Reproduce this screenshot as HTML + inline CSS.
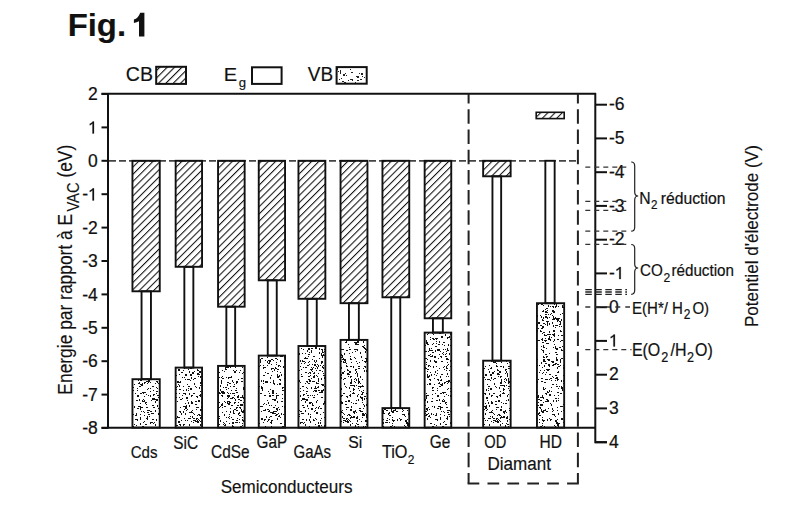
<!DOCTYPE html>
<html><head><meta charset="utf-8"><style>
html,body{margin:0;padding:0;background:#fff;width:809px;height:518px;overflow:hidden}
svg{display:block;font-family:"Liberation Sans",sans-serif}
.t{stroke:#111;stroke-width:0.22px} .t2{stroke:#111;stroke-width:0.15px}
</style></head><body>
<svg width="809" height="518" viewBox="0 0 809 518" font-family="Liberation Sans, sans-serif" fill="#111"><defs>
<pattern id="hatch" patternUnits="userSpaceOnUse" width="5.1" height="10" patternTransform="translate(131,161) rotate(45)">
<rect x="0" y="0" width="1.05" height="10" fill="#111"/>
</pattern>
<pattern id="hatchL" patternUnits="userSpaceOnUse" width="5.2" height="10" patternTransform="translate(157,84) rotate(45)">
<rect x="0" y="0" width="1.1" height="10" fill="#111"/>
</pattern>
<pattern id="stipL" patternUnits="userSpaceOnUse" width="40" height="20" patternTransform="translate(336,67)">
<g fill="#222"><path d="M20 9h2v1h-2zM4 34h1v1h-1zM37 3h1v1h-1zM5 27h2v1h-2zM15 5h2v1h-2zM36 7h1v1h-1zM36 37h2v1h-2zM14 2h1v1h-1zM26 9h1v1h-1zM35 11h1v1h-1zM23 6h1v1h-1zM39 13h2v2h-2zM20 29h2v1h-2zM19 15h1v1h-1zM5 36h1v2h-1zM21 28h1v1h-1zM7 32h2v1h-2zM21 9h2v2h-2zM2 4h1v1h-1zM22 38h2v2h-2zM4 5h1v2h-1zM4 3h1v2h-1zM18 24h1v1h-1zM29 22h1v1h-1zM31 3h1v1h-1zM8 15h2v2h-2zM31 5h1v2h-1zM25 35h1v1h-1zM27 35h1v2h-1zM22 24h1v1h-1zM5 11h1v1h-1zM14 0h2v1h-2zM16 18h1v1h-1zM26 34h1v1h-1zM8 32h1v2h-1zM35 25h2v2h-2zM25 6h2v2h-2zM3 12h1v1h-1zM28 10h1v1h-1zM38 3h1v1h-1zM36 9h1v1h-1zM39 1h1v1h-1zM39 24h1v1h-1zM22 38h1v2h-1zM7 7h2v2h-2zM30 30h1v1h-1zM9 6h1v1h-1zM30 10h1v1h-1zM33 23h1v1h-1zM33 19h1v1h-1zM33 23h1v1h-1zM14 34h1v1h-1zM39 12h1v2h-1zM14 12h2v1h-2zM1 1h1v2h-1zM16 12h1v2h-1zM22 23h1v1h-1zM6 14h2v1h-2zM21 13h2v1h-2zM30 22h1v1h-1zM24 12h2v1h-2zM27 21h1v2h-1zM29 25h1v1h-1zM10 8h1v1h-1zM37 29h1v2h-1zM22 9h1v1h-1zM0 6h1v2h-1zM12 13h1v1h-1zM13 18h1v1h-1zM16 34h2v1h-2z"/></g>
</pattern>
<pattern id="stip" patternUnits="userSpaceOnUse" width="150" height="150">
<g fill="#111"><path d="M15 90h2v2h-2zM128 33h1v1h-1zM112 46h1v1h-1zM44 36h2v1h-2zM142 15h1v2h-1zM27 143h1v1h-1zM48 70h1v1h-1zM129 115h1v1h-1zM113 83h1v1h-1zM115 130h2v1h-2zM133 66h1v2h-1zM35 106h1v2h-1zM113 80h1v1h-1zM109 18h1v1h-1zM31 39h1v1h-1zM64 35h2v1h-2zM24 101h2v1h-2zM57 41h2v2h-2zM86 107h1v1h-1zM81 23h1v1h-1zM86 141h2v2h-2zM4 98h1v1h-1zM131 16h1v1h-1zM26 21h1v1h-1zM10 46h1v1h-1zM108 66h2v1h-2zM137 131h2v1h-2zM22 71h1v1h-1zM108 18h1v1h-1zM22 66h1v1h-1zM17 67h1v2h-1zM2 86h2v1h-2zM33 11h1v1h-1zM41 67h1v1h-1zM51 79h1v1h-1zM74 114h1v1h-1zM88 4h1v1h-1zM3 4h1v2h-1zM62 114h1v2h-1zM126 139h2v1h-2zM55 58h1v1h-1zM35 103h1v1h-1zM33 3h1v1h-1zM110 41h1v1h-1zM97 129h1v1h-1zM75 11h2v1h-2zM40 68h2v1h-2zM67 93h1v1h-1zM62 8h1v1h-1zM91 46h1v1h-1zM97 21h2v1h-2zM128 51h1v1h-1zM23 67h1v1h-1zM102 10h2v1h-2zM76 77h1v1h-1zM149 135h1v2h-1zM83 126h1v1h-1zM37 11h2v1h-2zM134 129h1v1h-1zM21 7h1v1h-1zM92 26h2v2h-2zM142 12h1v1h-1zM125 67h1v2h-1zM17 128h1v1h-1zM121 64h1v1h-1zM60 52h1v2h-1zM126 97h1v2h-1zM73 11h1v1h-1zM37 84h1v1h-1zM145 34h1v2h-1zM15 124h1v1h-1zM55 125h1v1h-1zM118 119h2v1h-2zM140 51h1v1h-1zM121 4h1v2h-1zM19 129h2v1h-2zM99 53h1v1h-1zM148 23h1v1h-1zM92 33h1v1h-1zM93 59h2v2h-2zM100 6h1v1h-1zM125 115h2v1h-2zM36 106h1v2h-1zM80 30h1v1h-1zM83 86h2v1h-2zM50 3h1v1h-1zM95 16h2v2h-2zM19 92h2v1h-2zM12 71h1v1h-1zM73 38h1v1h-1zM111 130h1v1h-1zM95 109h1v2h-1zM141 140h1v1h-1zM12 105h2v1h-2zM73 124h1v1h-1zM43 120h2v1h-2zM72 76h1v1h-1zM103 61h1v2h-1zM142 100h1v1h-1zM41 19h1v2h-1zM140 56h2v1h-2zM115 109h1v1h-1zM62 23h1v1h-1zM142 23h1v1h-1zM94 66h1v1h-1zM105 98h2v1h-2zM96 69h1v1h-1zM127 71h1v1h-1zM128 135h1v1h-1zM69 63h2v2h-2zM114 110h1v1h-1zM32 8h2v2h-2zM125 0h1v2h-1zM135 119h2v1h-2zM27 57h1v1h-1zM133 27h2v1h-2zM141 10h1v1h-1zM59 145h1v1h-1zM32 64h2v1h-2zM25 18h1v1h-1zM99 66h1v1h-1zM2 137h1v2h-1zM71 80h1v2h-1zM134 60h1v1h-1zM105 78h1v1h-1zM49 127h2v1h-2zM65 58h2v1h-2zM58 126h1v1h-1zM107 92h2v1h-2zM1 74h1v1h-1zM126 51h1v1h-1zM59 119h1v1h-1zM75 27h2v1h-2zM57 124h2v1h-2zM37 100h1v1h-1zM6 36h2v1h-2zM15 47h2v2h-2zM80 28h1v1h-1zM84 48h1v2h-1zM8 79h2v1h-2zM84 113h1v1h-1zM0 20h1v1h-1zM89 107h1v1h-1zM97 91h1v2h-1zM22 12h2v1h-2zM95 138h2v1h-2zM82 93h2v1h-2zM105 63h2v1h-2zM96 8h2v1h-2zM15 65h1v1h-1zM86 92h1v1h-1zM11 67h1v1h-1zM76 0h1v1h-1zM59 27h2v2h-2zM98 64h2v2h-2zM33 127h1v1h-1zM77 38h1v1h-1zM81 117h1v1h-1zM131 50h2v1h-2zM63 104h1v1h-1zM123 141h1v1h-1zM109 26h1v1h-1zM21 53h1v2h-1zM127 114h1v1h-1zM34 106h2v1h-2zM137 31h1v1h-1zM71 145h1v1h-1zM65 66h1v2h-1zM63 47h1v1h-1zM39 72h1v1h-1zM16 101h1v1h-1zM129 134h1v1h-1zM118 9h1v1h-1zM121 59h2v1h-2zM10 75h1v1h-1zM12 48h1v1h-1zM95 131h1v2h-1zM66 1h1v1h-1zM55 9h1v1h-1zM36 11h1v1h-1zM9 52h1v1h-1zM104 95h1v1h-1zM19 52h1v2h-1zM140 123h1v2h-1zM25 101h1v1h-1zM41 101h1v2h-1zM72 78h2v1h-2zM79 145h1v2h-1zM106 4h1v1h-1zM100 103h1v1h-1zM111 40h2v1h-2zM23 103h1v2h-1zM41 33h1v1h-1zM141 36h2v1h-2zM146 94h1v1h-1zM89 72h1v1h-1zM17 27h2v2h-2zM50 77h1v1h-1zM123 80h1v2h-1zM22 41h1v2h-1zM50 121h1v1h-1zM10 102h1v2h-1zM91 31h1v1h-1zM49 10h1v1h-1zM30 99h2v1h-2zM107 78h1v2h-1zM99 94h2v2h-2zM45 5h1v2h-1zM119 60h2v2h-2zM45 121h2v1h-2zM17 32h1v2h-1zM93 23h2v1h-2zM10 33h1v1h-1zM130 20h1v2h-1zM34 6h1v1h-1zM49 33h2v1h-2zM42 56h1v1h-1zM64 40h1v1h-1zM116 36h1v2h-1zM53 67h1v1h-1zM95 9h1v1h-1zM103 41h1v1h-1zM96 43h1v1h-1zM135 12h1v2h-1zM142 133h1v1h-1zM137 100h1v1h-1zM96 94h1v1h-1zM84 20h2v1h-2zM45 12h1v1h-1zM79 149h1v1h-1zM8 56h1v1h-1zM110 106h1v1h-1zM33 125h1v1h-1zM5 13h1v1h-1zM77 27h1v1h-1zM105 149h1v1h-1zM52 93h2v1h-2zM34 3h1v1h-1zM115 24h1v1h-1zM69 102h1v1h-1zM14 143h1v2h-1zM132 126h1v1h-1zM0 11h1v1h-1zM103 47h1v1h-1zM14 26h1v1h-1zM36 105h1v2h-1zM44 130h1v1h-1zM76 12h2v1h-2zM96 111h2v1h-2zM115 44h1v1h-1zM66 59h1v1h-1zM85 67h1v1h-1zM141 111h1v1h-1zM55 21h1v1h-1zM66 60h1v1h-1zM83 49h2v1h-2zM61 97h2v2h-2zM135 1h1v2h-1zM59 146h1v1h-1zM100 149h1v1h-1zM37 8h1v1h-1zM27 41h1v1h-1zM7 7h1v1h-1zM10 17h1v1h-1zM93 51h1v2h-1zM27 63h1v1h-1zM28 8h1v1h-1zM73 122h1v1h-1zM25 52h1v1h-1zM86 108h1v1h-1zM89 65h1v1h-1zM94 82h2v1h-2zM7 105h1v2h-1zM132 25h1v2h-1zM12 137h1v1h-1zM147 73h1v2h-1zM0 134h1v1h-1zM13 1h1v2h-1zM24 125h1v2h-1zM88 131h1v1h-1zM72 54h1v2h-1zM42 28h1v2h-1zM143 26h1v1h-1zM24 102h2v1h-2zM108 6h1v1h-1zM77 67h2v1h-2zM97 59h2v1h-2zM136 8h1v1h-1zM133 39h2v1h-2zM43 118h2v1h-2zM148 59h1v1h-1zM118 60h1v1h-1zM77 39h1v1h-1zM83 133h1v1h-1zM60 83h1v1h-1zM26 42h1v1h-1zM98 38h1v1h-1zM76 111h1v1h-1zM27 27h1v1h-1zM99 118h1v1h-1zM102 111h1v1h-1zM118 5h1v1h-1zM103 1h1v2h-1zM146 107h1v1h-1zM46 31h2v2h-2zM80 66h1v2h-1zM62 102h1v1h-1zM108 123h2v1h-2zM104 132h1v1h-1zM2 99h2v1h-2zM9 64h1v1h-1zM51 132h1v1h-1zM147 116h1v2h-1zM131 4h1v1h-1zM105 116h1v1h-1zM100 131h1v1h-1zM14 64h1v2h-1zM102 15h1v1h-1zM107 107h1v1h-1zM27 57h1v2h-1zM134 56h2v2h-2zM54 42h1v1h-1zM49 120h1v1h-1zM90 105h2v1h-2zM140 32h2v1h-2zM58 68h2v1h-2zM109 47h2v1h-2zM71 91h1v1h-1zM82 122h2v2h-2zM21 92h1v1h-1zM98 14h1v1h-1zM35 135h1v1h-1zM2 53h1v1h-1zM64 25h1v1h-1zM47 115h1v1h-1zM53 103h1v1h-1zM140 76h1v2h-1zM54 135h1v2h-1zM29 142h1v1h-1zM107 59h1v2h-1zM126 142h1v2h-1zM119 36h2v1h-2zM127 42h1v1h-1zM82 119h2v1h-2zM119 95h2v2h-2zM19 46h1v1h-1zM5 11h1v1h-1zM130 123h2v1h-2zM8 54h2v1h-2zM86 24h1v1h-1zM121 134h1v1h-1zM111 87h2v1h-2zM141 13h1v1h-1zM90 126h2v1h-2zM128 69h1v1h-1zM126 30h1v1h-1zM81 76h1v1h-1zM10 102h2v1h-2zM102 76h1v1h-1zM11 48h2v1h-2zM128 139h2v1h-2zM21 54h1v2h-1zM44 25h1v1h-1zM107 25h1v1h-1zM35 79h1v1h-1zM47 107h1v1h-1zM5 110h1v2h-1zM145 133h1v1h-1zM107 147h2v2h-2zM17 3h2v1h-2zM121 105h1v1h-1zM120 54h1v1h-1zM109 1h1v1h-1zM22 55h1v1h-1zM120 4h1v1h-1zM115 47h1v1h-1zM37 21h1v2h-1zM117 65h1v1h-1zM2 15h1v1h-1zM99 79h1v1h-1zM124 15h1v1h-1zM147 112h2v1h-2zM37 29h1v1h-1zM106 122h2v2h-2zM69 145h1v1h-1zM71 15h1v1h-1zM38 79h2v1h-2zM96 99h2v1h-2zM115 72h1v1h-1zM67 68h2v1h-2zM10 73h1v1h-1zM70 140h2v1h-2zM136 21h2v2h-2zM51 59h1v1h-1zM101 119h1v1h-1zM2 98h2v1h-2zM137 90h1v1h-1zM101 148h1v1h-1zM122 129h1v1h-1zM54 49h1v1h-1zM74 92h1v2h-1zM132 38h1v1h-1zM126 95h1v1h-1zM118 20h1v1h-1zM7 88h1v1h-1zM24 8h1v2h-1zM145 54h1v1h-1zM109 24h2v1h-2zM65 9h1v1h-1zM46 96h1v1h-1zM13 8h1v2h-1zM124 16h2v1h-2zM23 65h1v1h-1zM22 129h2v1h-2zM114 40h1v1h-1zM56 44h1v1h-1zM90 15h1v1h-1zM66 131h2v1h-2zM25 37h1v1h-1zM50 76h2v1h-2zM120 82h1v1h-1zM99 31h1v2h-1zM97 43h2v1h-2zM36 3h2v1h-2zM9 40h1v1h-1zM95 35h2v1h-2zM98 5h1v2h-1zM86 82h1v2h-1zM29 93h1v1h-1zM56 14h1v2h-1zM141 37h2v1h-2zM68 107h2v1h-2zM39 6h1v1h-1zM85 42h1v2h-1zM27 81h2v2h-2zM29 39h1v1h-1zM143 122h1v1h-1zM65 51h1v2h-1zM66 61h1v1h-1zM99 74h2v1h-2zM14 75h1v1h-1zM113 129h1v1h-1zM113 0h1v1h-1zM92 111h1v2h-1zM55 70h1v1h-1zM46 133h1v1h-1zM50 20h1v2h-1zM70 44h1v1h-1zM49 149h1v1h-1zM2 16h2v1h-2zM132 88h1v1h-1zM126 23h1v2h-1zM122 34h1v1h-1zM47 144h1v1h-1zM41 95h1v1h-1zM133 114h1v1h-1zM91 62h1v2h-1zM147 15h1v1h-1zM126 114h1v1h-1zM5 62h1v1h-1zM46 42h1v1h-1zM64 142h1v1h-1zM24 49h1v1h-1zM147 118h1v2h-1zM26 89h1v1h-1zM11 69h1v2h-1zM126 149h1v1h-1zM31 31h2v1h-2zM138 58h1v1h-1zM146 118h2v1h-2zM4 99h2v1h-2zM101 13h1v1h-1zM102 61h1v2h-1zM144 82h2v1h-2zM83 132h1v1h-1zM63 108h1v1h-1zM27 135h1v1h-1zM83 110h1v1h-1zM57 35h2v2h-2zM116 11h1v1h-1zM68 69h1v1h-1zM64 31h1v2h-1zM60 10h1v1h-1zM78 88h1v1h-1zM15 131h1v1h-1zM119 136h1v2h-1zM31 130h1v1h-1zM104 147h1v1h-1zM62 22h1v2h-1zM145 56h2v1h-2zM140 93h2v1h-2zM122 120h1v1h-1zM62 85h1v1h-1zM131 139h2v2h-2zM3 90h1v1h-1zM82 142h1v2h-1zM69 72h1v1h-1zM14 5h1v1h-1zM89 112h1v2h-1zM112 90h1v1h-1zM39 106h1v1h-1zM35 51h1v1h-1zM121 68h1v2h-1zM26 1h2v1h-2zM127 101h1v2h-1zM71 28h2v2h-2zM117 73h1v1h-1zM90 100h2v1h-2zM1 127h2v2h-2zM76 47h1v1h-1zM111 147h2v1h-2zM22 84h1v1h-1zM83 52h2v1h-2zM6 12h1v2h-1zM76 137h1v2h-1zM132 132h2v2h-2zM118 91h1v1h-1zM115 2h1v1h-1zM25 104h1v2h-1zM143 146h1v1h-1zM107 124h2v2h-2zM87 135h1v1h-1zM92 81h1v1h-1zM79 131h1v1h-1zM75 87h2v1h-2zM134 74h1v1h-1zM105 46h1v1h-1zM90 145h1v2h-1zM2 0h1v1h-1zM77 101h1v1h-1zM7 50h1v2h-1zM141 145h1v1h-1zM147 50h2v1h-2zM37 40h1v1h-1zM25 19h1v2h-1zM119 110h1v1h-1zM148 82h1v1h-1zM90 70h1v1h-1zM68 25h1v1h-1zM49 115h2v1h-2zM13 56h2v1h-2zM112 13h1v1h-1zM57 11h1v1h-1zM80 1h2v1h-2zM107 64h2v1h-2zM62 99h1v2h-1zM79 102h2v1h-2zM62 22h1v1h-1zM91 97h1v1h-1zM74 101h1v1h-1zM85 136h2v1h-2zM103 16h1v2h-1zM89 141h1v2h-1zM48 119h1v1h-1zM60 111h1v1h-1zM6 87h1v1h-1zM33 23h1v1h-1zM139 32h2v2h-2zM61 40h1v1h-1zM55 103h2v1h-2zM76 121h1v1h-1zM115 33h1v2h-1zM94 136h1v2h-1zM130 54h1v1h-1zM131 23h1v2h-1zM7 145h1v1h-1zM3 99h1v1h-1zM59 82h1v1h-1zM17 143h1v1h-1zM49 16h1v1h-1zM57 73h1v2h-1zM72 91h2v2h-2zM33 70h1v1h-1zM93 89h2v1h-2zM118 63h2v1h-2zM25 46h1v1h-1zM69 56h1v2h-1zM10 41h2v1h-2zM77 39h2v1h-2zM141 79h1v1h-1zM145 127h1v2h-1zM147 89h1v1h-1zM73 10h1v1h-1zM28 9h1v1h-1zM88 22h2v2h-2zM56 71h1v1h-1zM108 113h1v2h-1zM130 13h1v2h-1zM131 32h2v1h-2zM11 143h1v1h-1zM139 41h1v1h-1zM63 15h1v1h-1zM88 105h1v1h-1zM79 35h1v2h-1zM123 60h1v1h-1zM131 113h1v1h-1zM76 34h1v1h-1zM85 30h2v1h-2zM39 118h2v1h-2zM29 74h1v1h-1zM124 52h1v1h-1zM71 77h1v1h-1zM79 114h1v1h-1zM83 113h2v1h-2zM74 43h1v1h-1zM2 119h2v1h-2zM84 144h1v1h-1zM125 111h2v1h-2zM139 82h1v1h-1zM23 73h1v1h-1zM20 35h1v1h-1zM101 37h1v1h-1zM47 134h1v1h-1zM79 83h2v1h-2zM91 81h1v1h-1zM34 141h1v1h-1zM61 14h1v1h-1zM145 103h1v1h-1zM126 108h2v1h-2zM76 148h1v1h-1zM58 41h1v2h-1zM102 22h1v2h-1zM122 48h1v1h-1zM0 8h2v1h-2zM72 18h1v2h-1zM86 16h2v1h-2zM45 42h2v1h-2zM1 113h1v1h-1zM120 21h1v2h-1zM109 136h1v2h-1zM20 15h1v1h-1zM144 146h2v1h-2zM123 35h1v1h-1zM135 7h1v1h-1zM114 21h1v1h-1zM142 148h2v1h-2zM135 61h2v2h-2zM66 29h1v1h-1zM51 140h1v1h-1zM64 24h1v1h-1zM125 58h2v1h-2zM138 146h1v1h-1zM104 18h2v1h-2zM128 140h1v1h-1zM117 100h1v1h-1zM144 121h1v1h-1zM95 14h2v1h-2zM12 95h1v1h-1zM54 117h1v1h-1zM34 109h1v1h-1zM144 29h1v1h-1zM93 87h1v1h-1zM31 61h1v1h-1zM125 11h1v1h-1zM91 140h1v1h-1zM8 62h1v1h-1zM49 114h1v2h-1zM29 5h2v1h-2zM18 66h1v1h-1zM141 74h2v1h-2zM64 137h1v2h-1zM3 6h1v1h-1zM124 128h2v1h-2zM9 19h1v2h-1zM121 40h2v2h-2zM58 132h1v1h-1zM84 135h1v1h-1zM33 11h1v1h-1zM92 119h1v2h-1zM99 90h1v1h-1zM85 148h2v1h-2zM58 5h1v2h-1zM11 37h1v1h-1zM98 69h1v1h-1zM91 145h1v1h-1zM143 24h1v2h-1zM146 25h1v1h-1zM60 36h1v1h-1zM87 92h1v1h-1zM140 103h1v1h-1zM86 82h2v1h-2zM62 60h1v1h-1zM34 52h1v2h-1zM103 114h2v1h-2zM43 16h1v1h-1zM78 64h1v1h-1zM48 149h1v1h-1zM77 148h1v2h-1zM91 109h1v2h-1zM81 44h1v1h-1zM139 5h1v1h-1zM60 5h1v1h-1zM102 114h1v1h-1zM128 25h1v1h-1zM14 33h1v1h-1zM18 147h1v1h-1zM1 48h1v1h-1zM82 7h1v1h-1zM83 6h2v2h-2zM86 44h1v2h-1zM11 22h1v2h-1zM102 65h2v1h-2zM6 81h1v1h-1zM106 84h1v1h-1zM4 39h1v1h-1zM135 23h1v1h-1zM108 88h1v1h-1zM58 66h2v1h-2zM79 140h2v1h-2zM92 133h1v1h-1zM64 2h2v1h-2zM92 38h1v2h-1zM23 7h1v1h-1zM15 139h1v1h-1zM66 93h1v1h-1zM41 135h1v1h-1zM62 113h2v1h-2zM88 99h2v1h-2zM82 6h1v1h-1zM16 102h1v1h-1zM58 144h2v2h-2zM96 57h1v1h-1zM5 67h2v1h-2zM59 90h1v1h-1zM108 71h1v2h-1zM55 145h1v2h-1zM68 34h1v1h-1zM22 84h1v2h-1zM63 41h1v2h-1zM54 148h1v1h-1zM92 11h2v1h-2zM111 35h1v1h-1zM28 38h1v1h-1zM77 38h1v1h-1zM43 118h2v1h-2zM106 86h2v1h-2zM8 149h1v1h-1zM3 9h1v1h-1zM147 110h1v1h-1zM12 81h1v1h-1zM30 124h1v2h-1zM0 45h1v1h-1zM139 128h1v1h-1zM127 19h1v1h-1zM57 18h1v1h-1zM3 67h1v1h-1zM11 50h1v2h-1zM142 92h1v1h-1zM83 10h2v1h-2zM140 84h2v1h-2zM102 108h1v2h-1zM98 38h2v2h-2zM104 36h1v1h-1zM128 65h2v1h-2zM50 29h1v1h-1zM12 103h1v2h-1zM140 80h2v1h-2zM121 120h1v2h-1zM60 96h1v1h-1zM100 134h1v1h-1zM18 139h1v1h-1zM67 121h1v2h-1zM146 56h1v1h-1zM135 93h1v1h-1zM93 61h1v1h-1zM117 45h1v1h-1zM97 92h2v1h-2zM104 39h1v2h-1zM26 93h1v1h-1zM115 22h1v2h-1zM74 114h1v2h-1zM122 44h1v1h-1zM33 93h2v1h-2zM94 133h1v2h-1zM64 4h1v1h-1zM146 66h1v1h-1zM78 139h1v1h-1zM65 61h1v2h-1zM23 134h2v1h-2zM51 32h2v1h-2zM95 11h2v2h-2zM93 10h1v2h-1zM110 65h1v1h-1zM98 148h1v1h-1zM148 95h1v1h-1zM84 18h1v2h-1zM97 100h2v2h-2zM6 27h2v2h-2zM111 106h2v1h-2zM16 112h2v2h-2zM34 131h1v1h-1zM51 102h1v1h-1zM141 84h2v2h-2zM30 23h1v1h-1zM146 3h1v2h-1zM22 55h2v1h-2zM51 85h2v1h-2zM140 106h1v2h-1zM12 37h1v1h-1zM48 132h1v1h-1zM137 70h1v1h-1zM80 98h1v1h-1zM142 101h2v1h-2zM78 77h1v2h-1zM111 138h1v1h-1zM51 33h1v1h-1zM137 95h2v2h-2zM149 36h1v1h-1zM51 116h1v1h-1zM2 136h1v2h-1zM144 82h1v1h-1zM56 112h1v1h-1zM53 116h2v2h-2zM52 52h1v1h-1zM111 31h1v1h-1zM18 127h1v1h-1zM143 42h2v1h-2zM75 54h1v1h-1zM52 132h1v2h-1zM24 51h1v1h-1zM106 57h1v2h-1zM108 39h1v1h-1zM10 40h2v1h-2zM59 149h1v1h-1zM79 66h1v1h-1zM38 59h2v1h-2zM83 97h1v1h-1zM57 139h1v1h-1zM118 38h1v2h-1zM85 102h1v1h-1zM90 31h1v1h-1zM74 125h1v1h-1zM127 23h1v2h-1zM71 77h1v1h-1zM35 120h1v1h-1zM148 76h1v1h-1zM0 88h1v1h-1zM76 12h1v1h-1zM89 115h2v1h-2zM84 93h1v1h-1zM76 17h2v1h-2zM141 28h1v2h-1zM118 9h1v1h-1zM131 148h1v2h-1zM33 106h1v1h-1zM95 41h1v1h-1zM23 84h1v2h-1zM77 38h1v1h-1zM27 61h1v1h-1zM127 69h1v1h-1zM119 62h1v1h-1zM129 65h1v1h-1zM72 103h1v1h-1zM61 136h1v1h-1zM3 27h1v2h-1zM146 53h1v1h-1zM43 39h1v1h-1zM108 100h1v1h-1zM145 30h1v1h-1zM59 62h1v1h-1zM18 86h1v1h-1zM55 44h1v1h-1zM21 118h1v1h-1zM81 105h2v1h-2zM22 62h1v1h-1zM38 88h1v1h-1zM50 56h1v1h-1zM0 122h1v2h-1zM134 84h1v1h-1zM50 12h1v2h-1zM23 89h1v2h-1zM127 34h1v1h-1zM13 119h1v2h-1zM98 131h1v1h-1zM17 64h1v1h-1zM50 117h1v2h-1zM147 12h2v2h-2zM87 97h2v1h-2zM58 86h2v1h-2zM1 76h2v1h-2zM28 121h2v2h-2zM76 117h1v1h-1zM139 54h1v1h-1zM100 119h1v1h-1zM85 22h1v1h-1zM113 104h1v1h-1zM55 10h2v1h-2zM99 69h1v1h-1zM92 42h1v1h-1zM100 78h2v1h-2zM129 48h1v2h-1zM134 2h1v1h-1zM26 62h2v1h-2zM90 25h2v1h-2zM64 106h1v1h-1zM113 68h1v1h-1zM78 96h1v2h-1zM126 93h1v1h-1zM30 142h2v2h-2zM79 131h1v2h-1zM8 83h2v1h-2zM1 69h1v1h-1zM147 130h1v2h-1zM44 71h1v1h-1zM139 6h2v2h-2zM21 97h2v1h-2zM71 82h1v2h-1zM12 136h1v1h-1zM51 132h1v1h-1zM78 133h1v1h-1zM13 76h2v1h-2zM47 69h1v2h-1zM50 82h2v2h-2zM27 66h1v2h-1zM81 98h2v1h-2zM28 52h2v2h-2zM40 80h1v1h-1zM71 137h2v2h-2zM19 70h2v1h-2zM101 135h1v1h-1zM66 115h1v1h-1zM136 145h1v1h-1zM92 67h1v1h-1zM140 24h2v1h-2zM78 42h1v1h-1zM103 100h1v2h-1zM100 127h1v1h-1zM47 36h2v1h-2zM34 54h1v1h-1zM105 17h1v1h-1zM147 110h2v1h-2zM146 70h1v1h-1zM56 61h1v1h-1zM8 97h1v1h-1zM98 70h1v1h-1zM54 57h1v1h-1zM92 145h1v1h-1zM5 132h1v1h-1zM83 55h1v2h-1zM35 114h1v1h-1zM114 142h1v1h-1zM137 119h1v2h-1zM57 75h1v1h-1zM135 145h1v1h-1zM142 53h1v1h-1zM57 44h1v1h-1zM108 95h1v1h-1zM22 149h1v2h-1zM99 131h2v1h-2zM14 95h1v1h-1zM18 122h1v2h-1zM116 116h1v1h-1zM48 28h2v1h-2zM72 49h1v1h-1zM112 50h1v1h-1zM51 143h1v1h-1zM4 16h1v1h-1zM106 3h1v1h-1zM41 144h1v1h-1zM78 26h1v1h-1zM90 107h1v2h-1zM26 87h1v1h-1zM93 120h2v1h-2zM86 81h2v1h-2zM27 135h1v2h-1zM53 90h1v1h-1zM49 71h2v2h-2zM41 111h1v1h-1zM3 28h1v2h-1zM7 2h1v2h-1zM11 52h1v1h-1zM86 143h2v2h-2zM52 1h1v1h-1zM90 97h1v1h-1zM32 51h2v2h-2zM146 149h2v1h-2zM145 13h2v1h-2zM102 61h2v2h-2zM36 30h2v2h-2zM16 61h1v1h-1zM100 144h1v1h-1zM62 24h1v1h-1zM9 119h1v2h-1zM61 56h1v2h-1zM67 10h1v2h-1zM4 122h1v1h-1zM47 36h1v1h-1zM27 130h2v1h-2zM18 7h1v1h-1zM13 139h1v2h-1zM101 1h1v1h-1zM47 129h2v1h-2zM31 53h2v1h-2zM22 139h1v1h-1zM22 61h1v1h-1zM94 70h1v1h-1zM75 37h2v1h-2zM49 1h1v1h-1zM11 29h1v2h-1zM116 104h1v1h-1zM5 15h1v1h-1zM110 14h1v1h-1zM113 65h1v1h-1zM76 89h1v1h-1zM97 24h1v2h-1zM41 121h1v1h-1zM63 3h2v1h-2zM87 59h1v1h-1zM0 61h1v1h-1zM136 41h1v1h-1zM80 108h1v1h-1zM16 137h1v2h-1zM41 54h1v1h-1zM104 132h1v1h-1zM55 73h1v1h-1zM110 30h1v2h-1zM42 72h2v1h-2zM87 65h1v1h-1zM53 66h1v1h-1zM17 100h1v1h-1zM16 17h1v1h-1zM92 19h1v1h-1zM126 130h1v2h-1zM45 25h1v1h-1zM101 104h1v2h-1zM24 117h1v1h-1zM52 7h2v1h-2zM27 53h1v1h-1zM71 2h1v1h-1zM22 40h1v1h-1zM46 11h1v2h-1zM24 14h2v1h-2zM22 145h1v1h-1zM16 75h1v1h-1zM33 90h1v1h-1zM35 94h1v1h-1zM93 42h1v1h-1zM42 73h2v1h-2zM57 49h1v2h-1zM93 61h2v1h-2zM1 12h1v2h-1zM94 60h1v1h-1zM120 112h2v1h-2zM28 117h2v1h-2zM103 30h2v2h-2zM44 59h2v2h-2zM15 30h1v1h-1zM68 92h2v2h-2zM61 86h1v1h-1zM130 56h2v1h-2zM144 96h1v1h-1zM110 134h1v1h-1zM133 43h1v1h-1zM25 21h2v1h-2zM119 117h1v1h-1zM115 81h1v1h-1zM71 92h1v1h-1zM121 123h1v1h-1zM130 2h1v2h-1zM8 137h1v2h-1zM35 93h1v2h-1zM82 10h1v1h-1zM58 4h2v1h-2zM115 55h1v1h-1zM112 35h1v1h-1zM80 149h1v1h-1zM102 6h1v1h-1zM92 123h1v1h-1zM122 95h2v1h-2zM55 49h2v1h-2zM79 116h1v1h-1zM82 8h2v1h-2zM87 105h1v1h-1zM41 61h1v1h-1zM66 116h2v2h-2zM35 66h1v1h-1zM70 106h1v1h-1zM133 34h1v1h-1zM42 59h2v1h-2zM20 149h2v2h-2zM64 145h1v1h-1zM68 104h1v1h-1zM111 26h1v1h-1zM18 73h1v1h-1zM107 18h2v1h-2zM131 149h1v2h-1zM62 127h1v1h-1zM111 19h1v2h-1zM46 65h1v2h-1zM93 134h1v1h-1zM14 120h1v1h-1zM2 113h2v1h-2zM46 119h1v1h-1zM110 22h1v2h-1zM102 34h1v1h-1zM92 97h2v1h-2zM32 56h1v1h-1zM28 9h1v2h-1zM107 19h2v2h-2zM85 147h1v1h-1zM111 80h1v2h-1zM4 41h2v1h-2zM29 74h1v1h-1zM50 94h1v1h-1zM41 16h2v1h-2zM50 3h2v1h-2zM7 17h1v1h-1zM21 63h1v1h-1zM58 44h1v1h-1zM4 6h1v1h-1zM22 50h1v2h-1zM85 18h1v1h-1zM74 106h2v1h-2zM85 14h1v1h-1zM41 67h1v1h-1zM13 67h1v1h-1zM87 128h2v1h-2zM48 143h1v1h-1zM108 98h1v1h-1zM58 79h1v2h-1zM24 16h1v1h-1zM115 119h1v1h-1zM120 144h2v1h-2zM3 49h1v1h-1zM117 61h1v2h-1zM133 136h1v1h-1zM7 58h1v1h-1zM131 74h1v2h-1zM49 47h1v1h-1zM66 33h1v1h-1zM57 118h1v1h-1zM101 80h1v1h-1zM80 22h1v1h-1zM83 131h1v1h-1zM44 62h2v1h-2zM50 82h1v1h-1zM121 135h1v1h-1zM27 17h2v2h-2zM123 17h1v1h-1zM115 81h2v2h-2zM95 136h2v1h-2zM13 26h2v1h-2zM71 34h1v1h-1zM16 119h1v1h-1zM17 87h2v1h-2zM37 100h1v1h-1zM8 73h1v1h-1zM18 80h1v2h-1zM43 61h1v2h-1zM109 86h1v1h-1zM62 117h1v1h-1zM66 98h2v1h-2zM47 73h2v2h-2zM51 33h1v2h-1zM27 131h1v1h-1zM7 65h2v1h-2zM82 80h1v1h-1zM48 107h1v1h-1zM59 147h1v1h-1zM65 10h1v1h-1zM58 81h1v1h-1zM77 95h1v2h-1zM96 72h1v1h-1zM3 105h1v1h-1zM43 38h1v1h-1zM129 83h2v2h-2zM78 34h1v1h-1zM14 88h1v1h-1zM35 138h1v2h-1zM86 120h2v1h-2zM87 92h1v1h-1zM25 30h1v1h-1zM6 58h1v1h-1zM17 127h1v1h-1zM118 102h1v2h-1zM96 79h2v1h-2zM88 79h1v1h-1zM132 17h2v2h-2zM106 3h1v1h-1zM53 92h1v1h-1zM145 8h2v2h-2zM6 33h2v1h-2zM47 134h1v1h-1zM25 56h1v1h-1zM93 110h1v2h-1zM19 106h1v1h-1zM77 84h1v2h-1zM139 128h1v1h-1zM96 143h1v1h-1zM4 141h1v1h-1zM13 14h1v1h-1zM128 55h2v1h-2zM143 54h1v1h-1zM112 7h2v1h-2zM66 70h1v2h-1zM55 131h2v1h-2zM23 1h1v1h-1zM60 137h1v1h-1zM132 44h1v1h-1zM51 149h1v2h-1zM55 69h2v1h-2zM125 0h2v1h-2zM17 143h2v1h-2zM81 117h1v1h-1zM139 86h2v1h-2zM50 58h1v2h-1zM91 111h1v1h-1zM41 55h2v1h-2zM36 49h1v1h-1zM129 75h1v2h-1zM122 112h2v2h-2zM70 120h1v2h-1zM130 37h1v1h-1zM18 90h2v1h-2zM103 25h1v2h-1zM85 90h2v1h-2zM119 146h1v1h-1zM122 90h2v2h-2zM76 40h1v1h-1zM93 102h1v1h-1zM87 40h2v1h-2zM73 29h1v1h-1zM82 122h2v2h-2zM70 93h1v1h-1zM140 136h1v2h-1zM29 85h1v2h-1zM144 66h1v1h-1zM99 17h1v1h-1zM70 85h1v2h-1zM41 96h1v1h-1zM49 53h1v1h-1zM37 79h1v1h-1zM14 111h1v1h-1zM27 36h1v1h-1zM111 49h1v2h-1zM98 108h1v1h-1zM32 77h1v1h-1zM14 41h1v1h-1zM5 83h1v1h-1zM118 41h1v1h-1zM50 91h1v1h-1zM30 111h1v2h-1zM104 64h2v1h-2zM123 6h1v1h-1zM46 38h1v1h-1zM114 135h1v2h-1zM140 147h1v2h-1zM112 5h1v2h-1zM130 37h1v1h-1zM127 44h2v1h-2zM1 128h1v1h-1zM106 48h2v2h-2zM85 122h1v1h-1zM96 48h1v1h-1zM1 148h1v1h-1zM143 67h1v1h-1zM146 139h2v1h-2zM21 125h1v1h-1zM109 21h2v1h-2zM129 109h1v1h-1zM34 26h2v1h-2zM29 111h2v1h-2zM20 114h1v1h-1zM9 126h1v1h-1zM16 66h1v1h-1zM52 130h2v1h-2zM116 81h2v2h-2zM30 11h1v1h-1zM13 138h1v1h-1zM96 63h1v1h-1zM113 122h1v1h-1zM20 8h1v2h-1zM120 20h1v1h-1zM47 34h1v1h-1zM128 66h1v1h-1zM41 57h2v1h-2zM64 66h1v1h-1zM41 77h1v2h-1zM136 113h1v1h-1zM106 120h1v1h-1zM98 59h2v2h-2zM135 50h1v1h-1zM133 30h1v2h-1zM42 35h2v2h-2zM126 68h1v1h-1zM141 127h1v1h-1zM87 24h1v2h-1zM28 35h2v1h-2zM84 98h1v1h-1zM7 81h1v2h-1zM31 72h2v1h-2zM144 92h2v1h-2zM139 44h1v1h-1zM48 76h1v1h-1zM16 107h1v1h-1zM141 18h1v1h-1zM60 28h1v1h-1zM49 148h1v1h-1zM12 109h1v1h-1zM80 145h1v2h-1zM89 136h1v1h-1zM146 51h1v1h-1zM26 53h1v1h-1zM149 131h1v2h-1zM103 6h1v2h-1zM28 69h1v2h-1zM93 5h1v1h-1zM109 136h2v1h-2zM95 93h1v1h-1zM94 65h1v1h-1zM40 38h1v1h-1zM31 40h1v1h-1zM143 127h2v2h-2zM139 3h1v1h-1zM108 35h1v1h-1zM61 91h1v1h-1zM122 99h2v1h-2zM121 10h1v1h-1zM115 128h1v1h-1zM46 50h1v1h-1zM21 84h1v1h-1zM20 108h1v1h-1zM131 114h1v1h-1zM44 78h2v1h-2zM27 131h2v1h-2zM11 127h1v1h-1zM14 72h1v1h-1zM12 26h1v2h-1zM43 58h1v2h-1zM66 116h1v1h-1zM119 0h1v2h-1zM25 50h2v1h-2zM137 73h1v1h-1zM63 68h1v1h-1zM9 102h2v2h-2zM17 39h1v1h-1zM14 139h1v1h-1zM25 97h2v1h-2zM49 25h2v2h-2zM74 16h2v1h-2zM36 17h2v2h-2zM32 6h1v1h-1zM19 28h1v1h-1zM13 56h1v1h-1zM43 93h2v1h-2zM41 112h2v1h-2zM0 33h1v2h-1zM60 39h1v1h-1zM29 97h1v1h-1zM0 39h1v1h-1zM21 78h1v2h-1zM144 136h1v1h-1zM132 52h2v1h-2zM32 95h1v1h-1zM71 128h1v1h-1zM107 110h1v1h-1zM136 75h1v1h-1zM114 95h2v1h-2zM130 138h2v1h-2zM75 102h1v1h-1zM123 82h1v2h-1zM91 78h2v1h-2zM22 92h1v1h-1zM110 65h1v1h-1zM69 140h1v1h-1zM92 104h1v2h-1zM134 78h1v1h-1zM86 120h1v1h-1zM124 26h1v1h-1zM69 124h1v1h-1zM86 107h2v1h-2zM107 39h1v1h-1zM46 40h1v1h-1zM15 62h1v1h-1zM44 13h2v2h-2zM49 38h1v1h-1zM28 69h2v2h-2zM65 5h2v2h-2zM47 97h1v1h-1zM29 82h1v1h-1zM8 48h1v1h-1zM148 146h1v1h-1zM25 51h1v1h-1zM120 147h1v1h-1zM9 146h1v1h-1zM130 117h1v1h-1zM54 112h1v2h-1zM92 3h1v1h-1zM84 102h1v2h-1zM62 85h1v2h-1zM9 133h1v1h-1zM120 122h2v1h-2zM13 97h2v1h-2zM44 120h2v1h-2zM26 66h2v1h-2zM79 118h1v1h-1zM17 23h1v1h-1zM94 1h2v2h-2zM129 116h1v1h-1zM132 94h1v1h-1zM130 135h2v1h-2zM95 74h1v1h-1zM99 91h1v1h-1zM72 21h1v1h-1zM93 136h1v1h-1zM84 29h1v1h-1zM106 5h1v1h-1zM102 0h1v1h-1zM136 114h1v2h-1zM66 59h1v2h-1zM42 95h1v1h-1zM96 56h1v2h-1zM10 127h2v1h-2zM138 44h1v1h-1zM47 66h1v1h-1zM130 80h1v1h-1zM123 28h1v1h-1zM79 77h1v1h-1zM113 81h1v1h-1zM126 114h1v1h-1zM27 20h1v1h-1zM68 17h1v1h-1zM4 58h2v1h-2zM116 136h1v1h-1zM51 80h1v1h-1zM33 86h1v1h-1zM18 5h1v1h-1zM40 74h1v1h-1zM22 52h2v1h-2zM141 1h1v1h-1zM58 78h1v2h-1zM36 97h2v2h-2zM116 50h1v1h-1zM69 130h1v1h-1zM78 101h1v1h-1zM24 55h2v1h-2zM118 130h1v2h-1zM6 91h2v1h-2zM40 88h2v2h-2zM40 134h1v2h-1zM47 120h1v1h-1zM63 90h1v1h-1zM70 89h1v2h-1zM72 96h1v1h-1zM111 0h1v1h-1zM35 141h1v1h-1zM74 24h2v2h-2zM111 111h1v1h-1zM39 105h1v1h-1zM81 56h2v2h-2zM71 38h1v1h-1zM147 48h1v2h-1zM137 49h2v2h-2zM25 4h1v2h-1zM9 145h1v2h-1zM55 78h1v1h-1zM88 95h1v2h-1zM16 40h1v1h-1zM64 140h1v1h-1zM146 12h1v1h-1zM52 21h1v1h-1zM22 67h2v1h-2zM64 0h1v2h-1zM57 95h1v2h-1zM29 57h1v1h-1zM84 27h2v2h-2zM5 57h1v1h-1zM9 80h2v2h-2zM136 100h1v1h-1zM106 18h2v2h-2zM149 135h2v1h-2zM45 104h2v1h-2zM12 143h1v2h-1zM147 62h1v1h-1zM94 110h1v1h-1zM66 124h1v1h-1zM120 33h1v2h-1zM52 36h2v1h-2zM75 5h2v2h-2zM83 133h1v1h-1zM17 32h1v1h-1zM73 11h1v1h-1zM139 41h1v1h-1zM17 76h1v1h-1zM45 101h2v1h-2zM30 133h2v1h-2zM124 113h2v1h-2zM111 58h2v1h-2zM82 122h2v2h-2zM132 142h1v1h-1zM10 114h1v1h-1zM39 112h2v1h-2zM92 39h1v2h-1zM38 69h1v1h-1zM143 4h2v1h-2zM8 113h1v2h-1zM16 26h1v2h-1zM77 129h1v2h-1zM93 32h2v1h-2zM4 6h1v1h-1zM20 23h1v1h-1zM35 74h2v2h-2zM64 61h1v1h-1zM144 24h2v1h-2zM14 28h1v2h-1zM16 146h1v1h-1zM127 74h1v2h-1zM5 72h2v1h-2zM76 140h1v1h-1zM24 132h2v1h-2zM58 94h1v1h-1zM130 128h1v1h-1zM95 63h2v1h-2zM61 111h2v1h-2zM52 34h1v1h-1zM20 65h1v1h-1zM66 49h2v2h-2zM44 24h1v1h-1zM47 121h2v1h-2zM48 100h2v2h-2zM50 95h1v2h-1zM145 102h2v1h-2zM99 36h1v2h-1zM9 20h1v1h-1zM142 44h1v1h-1zM117 121h1v1h-1zM94 47h1v1h-1zM22 39h1v2h-1zM86 26h1v1h-1zM141 57h1v1h-1zM77 21h1v1h-1zM101 3h2v1h-2zM97 119h1v2h-1zM96 0h1v1h-1zM103 64h1v1h-1zM25 118h2v1h-2zM63 114h1v1h-1zM14 95h1v1h-1zM5 124h1v2h-1zM39 138h2v1h-2zM88 102h1v1h-1zM23 146h1v2h-1zM49 74h1v1h-1zM128 95h1v1h-1zM85 65h1v1h-1zM110 134h2v2h-2zM118 119h1v1h-1zM44 29h1v1h-1zM53 34h1v2h-1zM85 48h1v2h-1zM123 11h1v1h-1zM44 114h1v1h-1zM115 7h1v2h-1zM105 129h1v2h-1zM59 35h1v2h-1zM60 86h1v2h-1zM106 101h1v1h-1zM82 9h2v1h-2zM56 85h1v1h-1zM24 14h2v2h-2zM126 95h1v2h-1zM148 80h1v2h-1zM66 104h1v2h-1zM138 134h2v1h-2zM125 25h2v1h-2zM127 110h1v1h-1zM120 77h1v2h-1zM70 0h2v1h-2zM89 147h2v2h-2zM26 75h1v1h-1zM78 139h1v2h-1zM144 7h2v2h-2zM141 148h1v2h-1zM77 136h1v1h-1zM3 37h1v1h-1zM62 7h1v1h-1zM60 97h1v1h-1zM36 25h1v2h-1zM132 98h1v1h-1zM114 44h1v1h-1zM4 135h1v2h-1zM13 31h1v1h-1zM101 140h1v1h-1zM84 18h1v2h-1zM34 77h1v1h-1zM117 129h1v2h-1zM30 55h1v1h-1zM58 0h1v1h-1zM24 46h2v1h-2zM33 47h1v2h-1zM37 145h2v1h-2zM64 138h1v1h-1zM95 38h1v1h-1zM31 51h1v1h-1zM78 82h1v1h-1zM119 138h1v2h-1zM27 23h1v2h-1zM46 41h1v1h-1zM1 23h2v1h-2zM32 63h2v1h-2zM104 115h1v1h-1zM101 87h1v1h-1zM111 88h2v1h-2zM32 98h1v1h-1zM107 72h1v1h-1zM54 111h1v2h-1zM72 48h2v1h-2zM97 22h1v2h-1zM16 145h2v2h-2zM65 126h1v2h-1zM26 59h1v2h-1zM48 1h2v2h-2zM87 96h1v1h-1zM100 39h1v2h-1zM131 32h1v1h-1zM114 119h1v2h-1zM35 44h1v1h-1zM105 6h1v2h-1zM95 54h2v1h-2zM119 105h1v1h-1zM22 56h1v2h-1zM51 106h1v2h-1zM110 93h2v1h-2zM57 17h1v1h-1zM149 114h2v1h-2zM146 107h1v1h-1zM129 138h2v1h-2zM64 98h1v2h-1zM114 9h2v1h-2zM13 40h1v1h-1zM76 20h1v1h-1zM127 76h2v2h-2zM136 19h1v1h-1zM44 53h1v2h-1zM39 135h1v1h-1zM17 36h1v2h-1zM57 31h1v1h-1zM124 83h1v2h-1zM71 95h2v1h-2zM68 47h2v1h-2zM40 116h1v1h-1zM100 143h1v1h-1zM77 92h1v1h-1zM25 142h1v2h-1zM59 81h1v1h-1zM113 110h1v1h-1zM127 59h1v1h-1zM53 89h2v1h-2zM96 21h1v1h-1zM139 99h1v2h-1zM53 111h1v2h-1zM9 120h1v1h-1zM120 0h1v1h-1zM35 113h1v1h-1zM136 125h1v1h-1zM79 101h1v1h-1zM24 75h1v1h-1zM147 37h1v2h-1zM73 29h1v1h-1zM24 77h1v2h-1zM69 116h1v1h-1zM65 3h1v1h-1zM58 82h1v2h-1zM67 87h1v1h-1zM72 3h1v1h-1zM54 93h1v1h-1zM87 30h1v2h-1zM64 22h2v2h-2zM78 93h1v1h-1zM107 67h1v2h-1zM127 84h1v1h-1zM66 25h1v1h-1zM63 8h1v1h-1zM33 137h2v1h-2zM127 95h1v1h-1zM59 108h2v1h-2zM11 87h1v1h-1zM70 89h1v2h-1zM38 131h1v1h-1zM132 38h2v1h-2zM77 55h1v2h-1zM20 122h1v2h-1zM53 88h1v2h-1zM125 51h1v1h-1zM117 57h1v1h-1zM38 26h1v1h-1zM92 20h2v1h-2zM138 11h1v2h-1zM118 120h1v1h-1zM77 139h1v1h-1zM125 45h1v1h-1zM88 148h2v1h-2zM16 21h1v1h-1zM4 134h2v2h-2zM64 70h1v2h-1zM144 69h1v1h-1zM34 118h1v1h-1zM62 37h1v1h-1zM33 124h2v1h-2zM0 111h2v1h-2zM129 26h2v1h-2zM103 34h2v2h-2zM44 37h2v1h-2zM128 107h1v1h-1zM21 61h1v2h-1zM93 145h1v1h-1zM132 55h1v1h-1zM23 84h1v1h-1zM58 31h1v2h-1zM46 8h1v2h-1zM123 54h2v1h-2zM52 36h2v2h-2zM42 10h1v1h-1zM85 30h1v2h-1zM27 30h1v1h-1zM12 68h1v2h-1zM147 107h1v1h-1zM84 109h2v1h-2zM110 61h1v2h-1zM37 109h1v1h-1zM76 23h2v1h-2zM82 29h2v2h-2zM114 44h1v1h-1zM9 61h1v1h-1zM13 73h2v1h-2zM14 60h1v2h-1zM65 120h2v2h-2zM29 59h1v1h-1zM29 89h2v1h-2zM15 108h1v1h-1zM113 148h2v1h-2zM25 2h2v2h-2zM63 128h1v1h-1zM112 87h1v1h-1zM23 112h1v1h-1zM16 83h1v1h-1zM64 105h1v1h-1zM8 114h1v1h-1zM143 52h1v1h-1zM137 38h1v1h-1zM149 70h2v1h-2zM75 67h2v1h-2zM42 49h2v1h-2zM54 85h1v2h-1zM78 103h2v2h-2zM39 93h1v2h-1zM64 45h1v1h-1zM97 69h1v1h-1zM92 117h1v1h-1zM45 86h1v1h-1zM110 47h1v1h-1zM23 54h1v1h-1zM140 127h1v1h-1zM74 71h1v1h-1zM144 29h1v1h-1zM42 144h1v1h-1zM149 110h1v1h-1zM125 139h1v2h-1zM11 78h1v1h-1zM101 91h1v1h-1zM50 82h1v1h-1zM69 22h1v1h-1zM21 97h1v1h-1zM111 86h1v1h-1zM42 132h1v1h-1zM147 28h1v1h-1zM61 94h2v1h-2zM141 107h2v1h-2zM10 95h1v1h-1zM81 36h1v1h-1zM47 32h1v1h-1zM27 129h1v2h-1zM39 138h1v1h-1zM44 34h2v1h-2zM114 103h1v1h-1zM77 98h1v1h-1zM141 61h2v1h-2zM22 135h1v2h-1zM24 137h1v1h-1zM24 38h1v1h-1zM104 4h1v1h-1zM46 107h1v1h-1zM14 37h1v1h-1zM95 88h1v1h-1zM116 117h1v1h-1zM77 82h1v1h-1zM14 90h2v1h-2zM141 142h1v2h-1zM70 35h1v1h-1zM21 49h2v1h-2zM10 135h1v1h-1zM105 142h1v1h-1zM63 26h1v2h-1zM0 60h1v1h-1zM2 60h1v2h-1zM136 38h1v2h-1zM122 71h1v1h-1zM80 77h2v1h-2zM93 111h1v2h-1zM33 144h1v1h-1zM125 141h1v1h-1zM86 122h2v1h-2zM145 7h2v1h-2zM31 120h1v1h-1zM145 102h1v1h-1zM66 114h1v2h-1zM137 143h2v1h-2zM135 138h1v2h-1zM55 110h1v2h-1zM31 130h1v1h-1zM138 108h1v1h-1zM56 61h1v1h-1zM5 102h1v1h-1zM14 3h2v1h-2zM143 99h1v1h-1zM120 116h2v1h-2zM102 10h1v2h-1zM82 47h1v2h-1zM44 59h1v1h-1zM28 84h1v1h-1zM89 99h1v1h-1zM84 84h1v1h-1zM45 5h1v2h-1zM138 80h1v1h-1zM0 95h1v2h-1zM136 66h1v1h-1zM136 6h1v1h-1zM143 92h1v2h-1zM147 65h1v1h-1zM106 6h1v1h-1zM4 94h1v1h-1zM60 141h2v1h-2zM86 18h1v1h-1zM25 36h1v2h-1zM115 60h1v1h-1zM132 87h2v1h-2zM104 143h1v1h-1zM6 138h1v1h-1zM112 87h1v2h-1zM105 75h2v1h-2zM0 23h1v1h-1zM65 113h1v1h-1zM6 93h1v1h-1zM15 110h1v1h-1zM61 27h2v1h-2zM19 58h1v1h-1zM57 25h2v1h-2zM83 111h1v2h-1zM41 102h2v1h-2zM82 97h2v1h-2zM137 25h1v2h-1zM143 126h1v1h-1zM61 94h1v1h-1zM105 120h2v2h-2zM35 108h2v1h-2zM118 73h1v1h-1zM84 95h1v1h-1zM63 114h2v2h-2zM111 137h1v1h-1zM58 88h1v1h-1zM18 78h1v2h-1zM46 118h2v1h-2zM103 18h1v2h-1zM48 6h1v1h-1zM88 105h1v1h-1zM91 49h1v1h-1zM1 63h1v1h-1zM9 76h1v1h-1zM6 99h2v2h-2zM91 4h2v1h-2zM9 40h2v1h-2zM146 68h2v1h-2zM73 87h1v1h-1zM17 18h2v1h-2zM134 106h1v2h-1zM23 30h1v1h-1zM99 23h1v2h-1zM56 30h1v1h-1zM132 106h1v1h-1zM21 45h1v1h-1zM44 83h1v2h-1zM15 88h2v1h-2zM128 127h1v1h-1zM133 1h1v1h-1zM105 52h2v1h-2zM79 10h1v2h-1zM146 58h2v2h-2zM19 23h1v1h-1zM79 138h1v2h-1zM12 22h1v1h-1zM9 32h1v2h-1zM101 61h1v1h-1zM38 86h2v1h-2zM114 67h2v1h-2zM77 55h1v2h-1zM77 147h1v1h-1zM138 32h1v1h-1zM56 33h1v1h-1zM126 41h1v1h-1zM93 97h1v2h-1zM0 66h1v1h-1zM34 106h1v1h-1zM83 82h1v1h-1zM129 79h2v1h-2zM59 20h2v2h-2zM52 123h1v1h-1zM128 116h1v1h-1zM81 47h1v2h-1zM135 17h1v1h-1zM146 76h1v1h-1zM43 113h1v1h-1zM51 144h2v1h-2zM50 66h2v1h-2zM106 59h1v2h-1zM105 25h2v1h-2zM41 34h1v1h-1zM36 134h1v2h-1zM136 43h1v1h-1zM47 37h2v1h-2zM120 89h1v1h-1zM56 16h1v1h-1zM24 147h1v1h-1zM94 61h2v1h-2zM95 101h2v1h-2zM137 11h1v1h-1zM55 42h2v2h-2zM59 110h2v1h-2zM18 125h2v2h-2zM68 77h2v1h-2zM126 11h2v2h-2zM91 128h1v2h-1zM41 136h1v1h-1zM26 125h2v1h-2zM18 43h2v2h-2zM89 122h1v1h-1zM99 34h2v1h-2zM143 22h1v1h-1zM38 90h1v1h-1zM105 126h1v1h-1zM33 52h1v1h-1zM102 84h2v1h-2zM144 112h1v1h-1zM85 9h1v1h-1zM78 95h2v2h-2zM72 96h1v1h-1zM70 132h1v1h-1zM124 69h1v2h-1zM140 29h1v2h-1zM19 106h1v1h-1zM30 25h1v2h-1zM57 120h1v2h-1zM94 65h1v2h-1zM32 12h1v1h-1zM146 127h1v1h-1zM122 68h2v1h-2zM27 101h1v1h-1zM130 72h1v1h-1zM12 64h1v1h-1zM35 131h2v1h-2zM120 2h1v1h-1zM137 88h1v1h-1zM13 81h2v1h-2zM58 99h1v2h-1zM39 65h1v1h-1zM63 129h1v2h-1zM42 26h1v2h-1zM82 132h2v1h-2zM47 39h1v2h-1zM3 123h1v1h-1zM21 108h1v1h-1zM26 58h1v1h-1zM82 22h1v2h-1zM133 90h1v1h-1zM132 32h1v2h-1zM148 114h1v1h-1zM83 22h1v2h-1zM27 86h1v1h-1zM67 142h1v1h-1zM90 31h2v1h-2zM125 30h1v1h-1zM33 1h1v1h-1zM2 19h1v1h-1zM146 67h1v1h-1zM24 86h1v1h-1zM46 50h2v1h-2zM29 25h1v1h-1zM12 20h1v1h-1zM64 96h2v1h-2zM121 8h1v1h-1zM144 115h1v1h-1zM111 118h2v2h-2zM46 13h1v2h-1zM3 38h1v1h-1zM80 136h2v2h-2zM23 73h1v1h-1zM33 130h1v1h-1zM98 127h1v1h-1zM84 64h1v1h-1zM95 63h1v1h-1zM6 6h1v1h-1zM113 67h1v1h-1zM96 93h1v1h-1zM117 149h1v1h-1zM55 132h1v1h-1zM77 146h2v2h-2zM141 107h2v1h-2zM132 90h1v1h-1zM118 13h2v2h-2zM0 82h1v1h-1zM22 4h2v1h-2zM63 41h1v2h-1zM7 95h2v1h-2zM128 11h1v2h-1zM115 133h1v1h-1zM11 88h1v1h-1zM139 42h1v1h-1zM68 118h2v1h-2zM36 46h1v1h-1zM30 16h2v1h-2zM147 83h1v1h-1zM38 118h1v1h-1zM36 26h1v2h-1zM92 125h1v1h-1zM44 138h1v2h-1zM138 83h1v1h-1zM56 117h1v2h-1zM78 138h1v1h-1zM40 75h2v1h-2zM97 17h1v2h-1zM15 68h1v1h-1zM21 24h2v1h-2zM82 12h2v2h-2zM53 133h1v1h-1zM120 32h1v1h-1zM29 145h2v2h-2zM32 98h1v1h-1zM97 10h1v1h-1zM94 40h2v1h-2zM72 112h1v1h-1zM68 75h1v1h-1zM2 105h1v1h-1zM142 19h1v2h-1zM111 139h2v1h-2zM13 91h1v1h-1zM136 15h2v1h-2zM57 15h1v1h-1zM86 70h1v1h-1zM25 91h1v1h-1zM138 128h1v2h-1zM62 93h1v1h-1zM62 17h1v2h-1zM108 79h1v1h-1zM139 83h1v1h-1zM142 148h1v2h-1zM19 48h1v2h-1zM3 49h1v1h-1zM81 143h1v1h-1zM94 34h1v1h-1zM140 119h1v1h-1zM17 83h2v1h-2zM74 123h1v1h-1zM15 118h1v1h-1zM148 44h1v2h-1zM93 17h1v2h-1zM140 117h1v2h-1zM36 52h1v1h-1zM103 110h1v1h-1zM104 35h1v1h-1zM66 128h2v1h-2zM118 111h2v1h-2zM103 133h1v1h-1zM131 48h1v1h-1zM49 88h1v1h-1zM93 46h1v2h-1zM54 81h1v1h-1zM125 105h1v1h-1zM57 116h1v2h-1zM107 21h1v1h-1zM123 37h1v1h-1zM46 87h1v1h-1zM62 46h2v1h-2zM148 64h1v1h-1zM126 109h2v1h-2zM93 121h1v1h-1zM18 22h2v1h-2zM95 79h1v1h-1zM5 53h1v1h-1zM130 60h1v2h-1zM42 110h1v1h-1zM49 95h1v1h-1zM80 111h1v2h-1zM148 37h2v1h-2zM51 31h1v2h-1zM147 149h1v1h-1zM10 19h1v1h-1zM142 83h1v1h-1zM39 124h1v2h-1zM47 131h1v1h-1zM12 59h1v1h-1zM8 130h1v2h-1zM91 28h2v1h-2zM100 142h1v2h-1zM129 141h1v2h-1zM148 88h1v1h-1zM47 96h1v1h-1zM138 8h1v1h-1zM144 129h1v2h-1zM5 42h1v1h-1zM143 111h1v1h-1zM104 125h1v1h-1zM121 21h1v1h-1zM103 19h2v1h-2zM10 116h1v2h-1zM123 21h2v1h-2zM119 11h2v1h-2zM128 142h1v1h-1zM126 15h1v1h-1zM86 135h1v2h-1zM149 116h2v1h-2zM110 138h1v1h-1zM3 61h2v1h-2zM135 32h1v1h-1zM57 23h1v1h-1zM105 6h1v1h-1zM138 106h2v1h-2zM105 47h1v2h-1zM23 139h2v1h-2zM95 24h1v1h-1zM92 119h1v2h-1zM37 120h1v1h-1zM85 131h1v2h-1zM106 77h2v2h-2zM3 107h2v1h-2zM123 111h2v1h-2zM126 3h1v1h-1zM73 139h1v1h-1zM52 16h1v1h-1zM91 39h1v1h-1zM10 69h1v1h-1zM78 48h2v1h-2zM28 28h1v1h-1zM140 114h1v1h-1zM135 46h2v1h-2zM21 38h1v2h-1zM9 72h2v1h-2zM135 71h1v2h-1zM67 121h1v1h-1zM43 122h1v1h-1zM80 93h1v1h-1zM51 18h1v1h-1zM41 49h1v1h-1zM31 54h1v1h-1zM21 129h2v1h-2zM88 113h1v2h-1zM130 18h1v2h-1zM16 60h1v1h-1zM55 82h1v1h-1zM50 85h1v1h-1zM17 94h1v1h-1zM92 73h1v1h-1zM103 149h1v1h-1zM57 76h1v1h-1zM139 68h1v1h-1zM1 122h2v1h-2zM130 39h1v1h-1zM124 52h1v1h-1zM119 93h1v1h-1zM68 141h1v1h-1zM132 126h2v1h-2zM130 142h2v1h-2zM43 127h1v1h-1zM67 28h2v1h-2zM18 65h1v1h-1zM138 49h2v2h-2zM82 146h1v2h-1zM127 132h1v1h-1zM126 40h1v1h-1zM19 130h1v1h-1zM113 75h2v1h-2zM89 119h1v1h-1zM73 65h2v1h-2zM8 76h2v1h-2zM65 131h2v1h-2zM135 115h1v1h-1zM28 22h1v1h-1zM105 27h1v1h-1zM143 49h1v1h-1zM10 21h1v1h-1zM58 32h1v2h-1zM144 45h1v1h-1zM61 121h1v1h-1zM142 11h1v2h-1zM34 68h1v1h-1zM80 138h1v2h-1zM130 66h1v1h-1zM107 80h1v1h-1zM129 27h1v1h-1zM91 16h1v2h-1zM68 146h2v1h-2zM116 33h2v1h-2zM72 70h1v1h-1zM138 7h1v1h-1zM92 4h1v1h-1zM77 127h1v1h-1zM55 128h1v1h-1zM121 144h1v1h-1zM130 84h1v1h-1zM31 26h1v2h-1zM60 76h1v2h-1zM20 120h1v1h-1zM93 56h1v1h-1zM149 24h2v1h-2zM75 124h1v2h-1zM122 54h2v1h-2zM15 86h1v2h-1zM141 136h1v1h-1zM55 132h1v2h-1zM1 100h1v1h-1zM135 130h1v2h-1zM130 117h1v1h-1zM11 109h1v1h-1zM105 80h1v1h-1zM55 125h1v2h-1zM62 79h1v1h-1zM40 74h2v1h-2zM81 36h2v2h-2zM112 89h1v2h-1zM106 100h1v1h-1zM94 35h1v1h-1zM51 81h1v1h-1zM121 126h1v2h-1zM57 63h1v1h-1zM83 70h1v1h-1zM75 67h1v2h-1zM37 0h1v1h-1zM13 20h1v2h-1zM37 19h1v1h-1zM46 63h1v1h-1zM10 141h1v1h-1zM48 44h1v1h-1zM73 39h1v1h-1zM35 22h2v1h-2zM25 0h1v1h-1zM10 9h1v1h-1zM129 50h2v1h-2zM54 29h1v1h-1zM9 119h1v1h-1zM137 6h1v1h-1zM10 121h1v2h-1zM2 41h1v1h-1zM106 132h2v2h-2zM8 48h2v2h-2zM53 85h2v1h-2zM56 79h1v2h-1zM57 131h1v1h-1zM132 55h1v2h-1zM115 42h2v1h-2zM88 28h1v1h-1zM103 77h1v1h-1zM37 148h1v1h-1zM23 67h1v2h-1zM77 102h1v1h-1zM14 3h1v1h-1zM72 107h1v1h-1zM130 29h1v1h-1zM37 45h1v2h-1zM36 89h1v2h-1zM109 0h1v2h-1zM15 5h1v1h-1zM47 29h1v1h-1zM134 61h1v1h-1zM49 49h2v1h-2zM23 148h2v1h-2zM12 46h1v1h-1zM141 141h1v2h-1zM28 61h1v1h-1zM6 119h1v2h-1zM76 134h2v1h-2zM144 100h1v2h-1zM33 27h2v1h-2zM101 2h2v1h-2zM51 62h1v1h-1zM145 49h1v1h-1zM90 30h1v1h-1zM25 89h1v2h-1zM7 8h1v1h-1zM81 38h1v1h-1zM3 133h2v2h-2zM45 145h1v1h-1zM64 47h1v2h-1zM107 119h1v1h-1zM19 145h1v1h-1zM122 92h2v2h-2zM126 62h1v1h-1zM52 10h2v1h-2zM67 107h1v1h-1zM107 135h1v1h-1zM50 124h1v2h-1zM86 9h1v1h-1zM117 15h1v1h-1zM97 34h2v1h-2zM15 65h1v1h-1zM60 83h1v1h-1zM124 107h1v1h-1zM90 104h2v1h-2zM49 87h1v1h-1zM82 125h1v2h-1zM30 107h1v1h-1zM125 29h2v2h-2zM142 126h1v1h-1zM91 132h1v1h-1zM111 49h1v2h-1zM93 45h1v1h-1zM80 86h1v1h-1zM60 22h1v1h-1zM26 50h1v1h-1zM123 107h1v1h-1zM31 113h1v2h-1zM147 149h1v1h-1zM73 34h1v2h-1zM6 38h2v1h-2zM65 48h1v2h-1zM132 50h1v1h-1zM1 12h2v1h-2zM35 45h2v1h-2zM15 64h1v2h-1zM86 88h1v1h-1zM87 16h1v1h-1zM15 91h1v1h-1zM20 144h1v2h-1zM120 31h1v1h-1zM67 115h1v1h-1zM91 140h2v1h-2zM115 110h1v1h-1zM86 15h2v1h-2zM55 51h1v1h-1zM70 39h1v2h-1zM16 82h1v2h-1zM33 111h1v2h-1zM135 38h1v1h-1zM15 142h1v2h-1zM114 4h1v1h-1zM4 63h1v1h-1zM58 134h2v1h-2zM124 9h2v1h-2zM102 141h1v1h-1zM36 110h1v1h-1zM30 81h1v2h-1zM100 14h1v1h-1zM82 138h1v1h-1zM146 81h2v1h-2zM3 94h1v2h-1zM97 69h1v2h-1zM100 120h1v1h-1zM58 128h1v1h-1zM105 6h1v2h-1zM146 23h1v1h-1zM117 81h1v1h-1zM63 86h1v1h-1zM58 124h1v1h-1zM144 82h1v1h-1zM70 21h2v2h-2zM137 79h2v1h-2zM5 58h2v1h-2zM126 42h2v2h-2zM127 95h1v1h-1zM118 54h1v1h-1zM75 69h2v1h-2zM121 75h1v1h-1zM95 40h2v1h-2zM93 57h2v1h-2zM128 113h1v1h-1zM6 4h1v2h-1zM79 123h1v1h-1zM110 59h1v2h-1zM18 107h1v2h-1zM38 5h1v1h-1zM42 38h1v1h-1zM75 5h1v1h-1zM82 81h1v1h-1zM23 75h1v1h-1zM56 100h1v1h-1zM50 109h2v2h-2zM79 38h2v1h-2zM24 102h1v2h-1zM92 95h1v2h-1zM46 1h1v1h-1zM90 0h1v1h-1zM78 117h1v1h-1zM92 2h1v2h-1zM23 39h2v1h-2zM108 126h1v2h-1zM145 124h2v1h-2zM149 53h2v2h-2zM1 27h2v1h-2zM110 146h1v1h-1zM132 16h1v1h-1zM103 11h2v2h-2zM30 49h1v1h-1zM127 118h1v2h-1zM117 109h2v1h-2zM45 61h1v2h-1zM144 83h1v1h-1zM94 126h1v1h-1zM58 1h1v1h-1zM134 19h1v2h-1zM124 99h2v2h-2zM62 92h2v1h-2zM93 87h1v2h-1zM52 15h1v1h-1zM143 130h1v1h-1zM97 127h1v1h-1zM31 135h2v1h-2zM0 91h1v1h-1zM12 138h1v1h-1zM67 92h1v2h-1zM50 8h1v2h-1zM140 108h1v2h-1zM146 104h1v1h-1zM104 44h1v1h-1zM105 146h1v2h-1zM54 79h1v1h-1zM27 9h1v1h-1zM68 81h1v2h-1zM73 16h1v1h-1zM81 90h1v1h-1zM11 108h2v1h-2zM34 12h1v1h-1zM16 70h1v1h-1zM41 103h2v1h-2zM22 90h1v2h-1zM149 80h2v2h-2zM77 103h1v1h-1zM86 110h2v1h-2zM21 90h1v2h-1zM56 72h1v1h-1zM29 124h1v1h-1zM56 123h1v1h-1zM84 71h2v2h-2zM51 117h2v1h-2zM100 135h1v1h-1zM134 124h1v1h-1zM131 101h2v1h-2zM126 64h1v1h-1zM63 126h1v1h-1zM141 18h1v1h-1zM120 116h2v1h-2zM82 52h1v2h-1zM26 64h2v1h-2zM139 149h1v1h-1zM48 114h1v1h-1zM31 142h1v1h-1zM14 19h1v1h-1zM97 56h1v1h-1zM34 44h1v2h-1zM87 118h1v1h-1zM93 23h1v1h-1zM38 102h1v2h-1zM41 29h1v1h-1zM21 35h2v1h-2zM141 29h1v2h-1zM8 131h2v1h-2zM97 12h1v1h-1zM8 65h1v1h-1zM43 79h1v1h-1zM58 21h2v1h-2zM93 72h1v1h-1zM107 128h1v1h-1zM75 19h1v1h-1zM72 93h2v1h-2zM82 142h1v1h-1zM96 142h1v2h-1zM5 101h1v1h-1zM24 101h1v1h-1zM139 27h1v2h-1zM106 54h2v1h-2zM46 109h1v1h-1zM11 5h1v1h-1zM39 71h1v1h-1zM80 43h1v1h-1zM71 104h2v2h-2zM13 77h2v1h-2zM51 139h1v1h-1zM8 108h1v1h-1zM88 40h2v1h-2zM102 19h2v1h-2zM20 144h1v1h-1zM92 50h2v1h-2zM42 35h1v2h-1zM137 108h1v1h-1zM104 33h1v1h-1zM42 116h1v2h-1zM139 25h1v1h-1zM54 111h1v1h-1zM135 50h1v2h-1zM47 122h2v1h-2zM85 99h1v2h-1zM134 131h2v1h-2zM27 116h1v2h-1zM115 126h1v2h-1z"/></g>
</pattern>
</defs>
<text transform="translate(67.66,36.07) scale(0.9954,0.9613)" font-size="33" font-weight="bold" class="t2">Fig.</text>
<path d="M139,36.5 V21.2 Q136.8,22.4 133.9,22.9 V19.6 Q138.3,18.2 140.2,12.7 H144.4 V36.5 Z" fill="#111"/>
<text transform="translate(125.87,81.34) scale(1.0286,1.0444)" font-size="19" font-weight="normal" class="t2">CB</text>
<rect x="156.2" y="66.8" width="29.8" height="17.1" fill="url(#hatchL)" stroke="#111" stroke-width="2"/>
<text transform="translate(223.82,80.76) scale(1.0560,1.0047)" font-size="19" font-weight="normal" class="t2">E<tspan font-size="12.5" dy="6" dx="1.5">g</tspan></text>
<rect x="252" y="67.3" width="29.6" height="16.6" fill="#fff" stroke="#111" stroke-width="2"/>
<text transform="translate(307.85,80.80) scale(1.0000,1.0692)" font-size="19" font-weight="normal" class="t2">VB</text>
<rect x="336.6" y="67.1" width="30.1" height="16.6" fill="url(#stipL)" stroke="#111" stroke-width="2"/>
<line x1="109" y1="160.8" x2="577" y2="160.8" stroke="#444" stroke-width="1.8" stroke-dasharray="7 3"/>
<rect x="141.54999999999998" y="291.3" width="9.400000000000011" height="87.90000000000003" fill="#fff" stroke="#111" stroke-width="1.9"/>
<rect x="132.45" y="160.8" width="27.30000000000002" height="130.5" fill="url(#hatch)" stroke="#111" stroke-width="1.9"/>
<rect x="132.45" y="379.20000000000005" width="27.30000000000002" height="48.39999999999998" fill="url(#stip)" stroke="#111" stroke-width="1.9"/>
<rect x="184.35" y="266.8" width="9.000000000000005" height="100.80000000000001" fill="#fff" stroke="#111" stroke-width="1.9"/>
<rect x="175.64999999999998" y="160.8" width="26.400000000000013" height="106.0" fill="url(#hatch)" stroke="#111" stroke-width="1.9"/>
<rect x="175.64999999999998" y="367.6" width="26.400000000000013" height="60.0" fill="url(#stip)" stroke="#111" stroke-width="1.9"/>
<rect x="226.35" y="306.7" width="8.799999999999988" height="59.200000000000045" fill="#fff" stroke="#111" stroke-width="1.9"/>
<rect x="218.04999999999998" y="160.8" width="26.6" height="145.89999999999998" fill="url(#hatch)" stroke="#111" stroke-width="1.9"/>
<rect x="218.04999999999998" y="365.90000000000003" width="26.6" height="61.69999999999999" fill="url(#stip)" stroke="#111" stroke-width="1.9"/>
<rect x="267.75" y="280.3" width="8.999999999999977" height="75.30000000000001" fill="#fff" stroke="#111" stroke-width="1.9"/>
<rect x="258.75" y="160.8" width="26.29999999999999" height="119.5" fill="url(#hatch)" stroke="#111" stroke-width="1.9"/>
<rect x="258.75" y="355.6" width="26.29999999999999" height="72.0" fill="url(#stip)" stroke="#111" stroke-width="1.9"/>
<rect x="307.34999999999997" y="298.8" width="9.400000000000011" height="47.19999999999999" fill="#fff" stroke="#111" stroke-width="1.9"/>
<rect x="298.45" y="160.8" width="26.899999999999956" height="138.0" fill="url(#hatch)" stroke="#111" stroke-width="1.9"/>
<rect x="298.45" y="346.0" width="26.899999999999956" height="81.60000000000002" fill="url(#stip)" stroke="#111" stroke-width="1.9"/>
<rect x="348.95" y="303.2" width="9.900000000000011" height="36.700000000000045" fill="#fff" stroke="#111" stroke-width="1.9"/>
<rect x="340.55" y="160.8" width="26.899999999999956" height="142.39999999999998" fill="url(#hatch)" stroke="#111" stroke-width="1.9"/>
<rect x="340.55" y="339.90000000000003" width="26.899999999999956" height="87.69999999999999" fill="url(#stip)" stroke="#111" stroke-width="1.9"/>
<rect x="391.25" y="297.3" width="8.999999999999977" height="110.80000000000001" fill="#fff" stroke="#111" stroke-width="1.9"/>
<rect x="382.45" y="160.8" width="26.79999999999999" height="136.5" fill="url(#hatch)" stroke="#111" stroke-width="1.9"/>
<rect x="382.45" y="408.1" width="26.79999999999999" height="19.5" fill="url(#stip)" stroke="#111" stroke-width="1.9"/>
<rect x="432.95" y="318.3" width="9.900000000000011" height="14.300000000000011" fill="#fff" stroke="#111" stroke-width="1.9"/>
<rect x="424.65" y="160.8" width="26.6" height="157.5" fill="url(#hatch)" stroke="#111" stroke-width="1.9"/>
<rect x="424.65" y="332.6" width="26.6" height="95.0" fill="url(#stip)" stroke="#111" stroke-width="1.9"/>
<rect x="492.45" y="176.3" width="8.700000000000022" height="184.40000000000003" fill="#fff" stroke="#111" stroke-width="1.9"/>
<rect x="483.15" y="160.8" width="27.49999999999998" height="15.5" fill="url(#hatch)" stroke="#111" stroke-width="1.9"/>
<rect x="483.15" y="360.70000000000005" width="27.49999999999998" height="66.89999999999998" fill="url(#stip)" stroke="#111" stroke-width="1.9"/>
<rect x="545.35" y="160.8" width="9.300000000000045" height="142.40000000000003" fill="#fff" stroke="#111" stroke-width="1.9"/>
<rect x="536.95" y="303.20000000000005" width="27.200000000000024" height="124.39999999999998" fill="url(#stip)" stroke="#111" stroke-width="1.9"/>
<rect x="536.2" y="112.3" width="28" height="6.3" fill="url(#hatch)" stroke="#111" stroke-width="1.6"/>
<g stroke="#111" stroke-width="2" fill="none">
<line x1="101.5" y1="93.8" x2="596" y2="93.8"/>
<line x1="101.5" y1="427.8" x2="596" y2="427.8"/>
<line x1="108" y1="93" x2="108" y2="428.6"/>
<polyline points="595.3,93 595.3,442.3 607,442.3"/>
<line x1="101.5" y1="428.0" x2="108" y2="428.0"/>
<line x1="101.5" y1="394.6" x2="108" y2="394.6"/>
<line x1="101.5" y1="361.2" x2="108" y2="361.2"/>
<line x1="101.5" y1="327.8" x2="108" y2="327.8"/>
<line x1="101.5" y1="294.4" x2="108" y2="294.4"/>
<line x1="101.5" y1="261.0" x2="108" y2="261.0"/>
<line x1="101.5" y1="227.6" x2="108" y2="227.6"/>
<line x1="101.5" y1="194.2" x2="108" y2="194.2"/>
<line x1="101.5" y1="160.8" x2="108" y2="160.8"/>
<line x1="101.5" y1="127.4" x2="108" y2="127.4"/>
<line x1="101.5" y1="94.0" x2="108" y2="94.0"/>
<line x1="595" y1="104.7" x2="607" y2="104.7"/>
<line x1="595" y1="138.4" x2="607" y2="138.4"/>
<line x1="595" y1="172.2" x2="607" y2="172.2"/>
<line x1="595" y1="205.9" x2="607" y2="205.9"/>
<line x1="595" y1="239.7" x2="607" y2="239.7"/>
<line x1="595" y1="273.4" x2="607" y2="273.4"/>
<line x1="595" y1="307.2" x2="607" y2="307.2"/>
<line x1="595" y1="340.9" x2="607" y2="340.9"/>
<line x1="595" y1="374.7" x2="607" y2="374.7"/>
<line x1="595" y1="408.4" x2="607" y2="408.4"/>
<line x1="595" y1="442.2" x2="607" y2="442.2"/>
</g>
<path d="M468.6,93.5 V483.6 M577.9,93.5 V483.6" fill="none" stroke="#222" stroke-width="2" stroke-dasharray="14.5 5.7" stroke-dashoffset="4.4"/>
<path d="M467.6,483.6 H578.9" fill="none" stroke="#222" stroke-width="2" stroke-dasharray="11.7 8.2"/>
<g font-size="17.5" text-anchor="end" class="t">
<text x="97.8" y="434.2">-8</text>
<text x="97.8" y="400.8">-7</text>
<text x="97.8" y="367.4">-6</text>
<text x="97.8" y="334.0">-5</text>
<text x="97.8" y="300.6">-4</text>
<text x="97.8" y="267.2">-3</text>
<text x="97.8" y="233.8">-2</text>
<path transform="translate(88.07,200.40) scale(0.00854,-0.00854)" d="M696 0H515V1180Q450 1110 370 1060Q290 1010 197 980V1150Q350 1220 440 1300Q520 1370 550 1409H696Z" stroke="#111" stroke-width="25.7"/>
<text x="88.07" y="200.4">-</text>
<text x="97.8" y="167.0">0</text>
<path transform="translate(88.07,133.60) scale(0.00854,-0.00854)" d="M696 0H515V1180Q450 1110 370 1060Q290 1010 197 980V1150Q350 1220 440 1300Q520 1370 550 1409H696Z" stroke="#111" stroke-width="25.7"/>
<text x="97.8" y="100.2">2</text>
</g>
<g font-size="17.5" class="t">
<text x="609" y="110.3">-6</text>
<text x="609" y="144.0">-5</text>
<text x="609" y="177.8">-4</text>
<text x="609" y="211.5">-3</text>
<text x="609" y="245.3">-2</text>
<text x="609" y="279.1">-</text>
<path transform="translate(614.83,279.05) scale(0.00854,-0.00854)" d="M696 0H515V1180Q450 1110 370 1060Q290 1010 197 980V1150Q350 1220 440 1300Q520 1370 550 1409H696Z" stroke="#111" stroke-width="25.7"/>
<text x="609" y="312.8">0</text>
<path transform="translate(609.00,346.55) scale(0.00854,-0.00854)" d="M696 0H515V1180Q450 1110 370 1060Q290 1010 197 980V1150Q350 1220 440 1300Q520 1370 550 1409H696Z" stroke="#111" stroke-width="25.7"/>
<text x="609" y="380.3">2</text>
<text x="609" y="414.1">3</text>
<text x="609" y="447.8">4</text>
</g>
<line x1="585.3" y1="167.2" x2="627" y2="167.2" stroke="#333" stroke-width="1.3" stroke-dasharray="5 4"/>
<line x1="585.3" y1="201.4" x2="627" y2="201.4" stroke="#333" stroke-width="1.3" stroke-dasharray="5 4"/>
<line x1="585.3" y1="210.4" x2="627" y2="210.4" stroke="#333" stroke-width="1.3" stroke-dasharray="5 4"/>
<line x1="585.3" y1="231.1" x2="627" y2="231.1" stroke="#333" stroke-width="1.3" stroke-dasharray="5 4"/>
<line x1="585.3" y1="244.4" x2="627" y2="244.4" stroke="#333" stroke-width="1.3" stroke-dasharray="5 4"/>
<line x1="585.3" y1="289.6" x2="627" y2="289.6" stroke="#222" stroke-width="1.3" stroke-dasharray="6.5 3.5"/>
<line x1="585.3" y1="292.0" x2="627" y2="292.0" stroke="#222" stroke-width="1.3" stroke-dasharray="6.5 3.5"/>
<line x1="585.3" y1="294.4" x2="627" y2="294.4" stroke="#222" stroke-width="1.3" stroke-dasharray="6.5 3.5"/>
<line x1="585.3" y1="307" x2="630" y2="307" stroke="#333" stroke-width="1.3" stroke-dasharray="5 5"/>
<line x1="585.3" y1="349.6" x2="631.5" y2="349.6" stroke="#333" stroke-width="1.2" stroke-dasharray="5 4"/>
<path d="M631.2,162 Q634.7,162 634.7,166 L634.7,192 Q634.7,196 638.2,196 Q634.7,196 634.7,200 L634.7,227.2 Q634.7,231.2 631.2,231.2" fill="none" stroke="#222" stroke-width="1.2"/>
<path d="M631.2,244.5 Q634.7,244.5 634.7,248.5 L634.7,264 Q634.7,268 638.2,268 Q634.7,268 634.7,272 L634.7,290.3 Q634.7,294.3 631.2,294.3" fill="none" stroke="#222" stroke-width="1.2"/>
<text transform="translate(639.31,203.63) scale(0.9249,0.9944)" font-size="17" font-weight="normal" class="t">N<tspan font-size="12.5" dy="5.6" dx="0.5">2</tspan><tspan dy="-5.6" dx="3.5">réduction</tspan></text>
<text transform="translate(640.03,276.05) scale(0.8961,0.9479)" font-size="17" font-weight="normal" class="t">CO<tspan font-size="13.5" dy="5.8" dx="0.8">2</tspan><tspan dy="-5.8" dx="1.2">réduction</tspan></text>
<text transform="translate(631.97,313.52) scale(0.8850,1.0222)" font-size="17" font-weight="normal" class="t">E(H*/ H<tspan font-size="13.5" dy="5.8" dx="1">2</tspan><tspan dy="-5.8" dx="2.2">O)</tspan></text>
<text transform="translate(631.89,355.86) scale(0.9389,1.0500)" font-size="17" font-weight="normal" class="t">E(O<tspan font-size="13.5" dy="5.8" dx="1">2</tspan><tspan dy="-5.8" dx="2.5">/H</tspan><tspan font-size="13.5" dy="5.8" dx="0.5">2</tspan><tspan dy="-5.8" dx="1">O)</tspan></text>
<text transform="translate(130.74,457.64) scale(0.8862,1.0240)" font-size="17" font-weight="normal" class="t">Cds</text>
<text transform="translate(173.22,448.54) scale(0.9038,1.0320)" font-size="17" font-weight="normal" class="t">SiC</text>
<text transform="translate(211.12,457.64) scale(0.9049,1.0400)" font-size="17" font-weight="normal" class="t">CdSe</text>
<text transform="translate(256.52,448.24) scale(0.9023,1.0500)" font-size="17" font-weight="normal" class="t">GaP</text>
<text transform="translate(293.54,457.54) scale(0.8824,1.0583)" font-size="17" font-weight="normal" class="t">GaAs</text>
<text transform="translate(348.20,448.25) scale(0.9283,1.0000)" font-size="17" font-weight="normal" class="t">Si</text>
<text transform="translate(381.92,457.69) scale(0.9545,1.0278)" font-size="17" font-weight="normal" class="t">TiO<tspan font-size="12.5" dy="5.8" dx="0.3">2</tspan></text>
<text transform="translate(429.72,448.24) scale(0.9082,1.0500)" font-size="17" font-weight="normal" class="t">Ge</text>
<text transform="translate(484.25,448.44) scale(0.8625,1.0500)" font-size="17" font-weight="normal" class="t">OD</text>
<text transform="translate(539.53,448.40) scale(0.9124,1.0468)" font-size="17" font-weight="normal" class="t">HD</text>
<text transform="translate(487.39,470.33) scale(1.0040,1.0640)" font-size="17" font-weight="normal" class="t2">Diamant</text>
<text transform="translate(220.65,493.43) scale(1.0046,1.0880)" font-size="17" font-weight="normal" class="t2">Semiconducteurs</text>
<text transform="translate(72.00,394.64) rotate(-90) scale(0.8926,1.0000)" font-size="19.5" font-weight="normal" class="t2">Energie par rapport à E<tspan font-size="16.5" dy="7" dx="2.5">VAC</tspan><tspan dy="-7" dx="0"> (eV)</tspan></text>
<text transform="translate(758.20,327.05) rotate(-90) scale(0.9003,1.0000)" font-size="19" font-weight="normal" class="t2">Potentiel d'électrode (V)</text></svg>
</body></html>
